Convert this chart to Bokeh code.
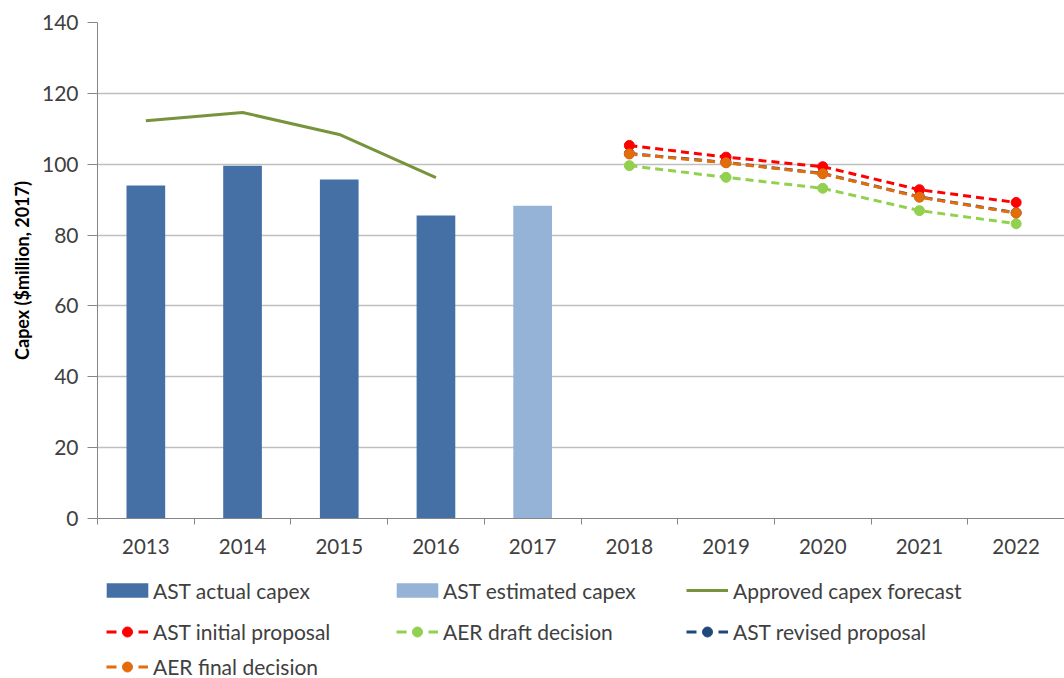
from bokeh.plotting import figure
from bokeh.layouts import column
from bokeh.models import Range1d, FixedTicker, Legend, LegendItem
from bokeh.embed import file_html
from bokeh.resources import INLINE

# ---- data -------------------------------------------------------------
years = ["2013", "2014", "2015", "2016", "2017", "2018", "2019", "2020", "2021", "2022"]

actual_years = ["2013", "2014", "2015", "2016"]
actual_capex = [94.0, 99.6, 95.7, 85.5]

estimated_years = ["2017"]
estimated_capex = [88.3]

approved_years = ["2013", "2014", "2015", "2016"]
approved_forecast = [112.3, 114.6, 108.4, 96.2]

forecast_years = ["2018", "2019", "2020", "2021", "2022"]
ast_initial = [105.3, 102.0, 99.3, 92.8, 89.2]
aer_draft = [99.6, 96.3, 93.2, 86.9, 83.2]
ast_revised = [103.0, 100.5, 97.4, 90.8, 86.3]
aer_final = [102.9, 100.4, 97.3, 90.7, 86.2]

y_ticks = [0, 20, 40, 60, 80, 100, 120, 140]

FONT = "Lato"
TEXT = "#404040"
GRID = "#BFBFBF"
AXIS = "#868686"

C_ACTUAL = "#4470A5"
C_EST = "#95B3D7"
C_APPR = "#77933C"
C_INITIAL = "#FF0000"
C_DRAFT = "#92D050"
C_REVISED = "#1F497D"
C_FINAL = "#E46C0A"


def pos(labels):
    return [years.index(y) + 0.5 for y in labels]


p = figure(width=1064, height=560, output_backend="svg", toolbar_location=None,
           x_range=Range1d(0, len(years)), y_range=Range1d(0, 140),
           frame_width=967, frame_height=496,
           min_border_left=97, min_border_top=22, min_border_right=0,
           min_border_bottom=42)
p.outline_line_color = None

# bars
p.vbar(x=pos(actual_years), top=actual_capex, width=0.4, fill_color=C_ACTUAL, line_color=None)
p.vbar(x=pos(estimated_years), top=estimated_capex, width=0.4, fill_color=C_EST, line_color=None)

# approved forecast line
p.line(pos(approved_years), approved_forecast, line_color=C_APPR, line_width=3)


# dashed forecast series with markers
def dashed(values, color):
    xs = pos(forecast_years)
    p.line(xs, values, line_color=color, line_width=3, line_dash="8 5")
    p.scatter(xs, values, marker="circle", size=10, fill_color=color, line_color=color)


dashed(aer_draft, C_DRAFT)
dashed(ast_revised, C_REVISED)
dashed(ast_initial, C_INITIAL)
dashed(aer_final, C_FINAL)

# ---- axes -------------------------------------------------------------
p.xgrid.grid_line_color = None
p.ygrid.grid_line_color = GRID
p.ygrid.grid_line_width = 1.5

p.yaxis.ticker = FixedTicker(ticks=y_ticks)
p.yaxis.axis_line_color = AXIS
p.yaxis.major_tick_line_color = AXIS
p.yaxis.major_tick_out = 10
p.yaxis.major_tick_in = 0
p.yaxis.minor_tick_line_color = None
p.yaxis.major_label_text_font = FONT
p.yaxis.major_label_text_font_size = "21px"
p.yaxis.major_label_text_color = TEXT
p.yaxis.major_label_standoff = 9
p.yaxis.axis_label = "Capex ($million, 2017)"
p.yaxis.axis_label_text_font = FONT
p.yaxis.axis_label_text_font_size = "18px"
p.yaxis.axis_label_text_font_style = "bold"
p.yaxis.axis_label_text_color = "black"
p.yaxis.axis_label_standoff = 6

centers = [i + 0.5 for i in range(len(years))]
p.xaxis.ticker = FixedTicker(ticks=centers, minor_ticks=list(range(len(years) + 1)))
p.xaxis.major_label_overrides = {c: y for c, y in zip(centers, years)}
p.xaxis.axis_line_color = AXIS
p.xaxis.major_tick_line_color = None
p.xaxis.minor_tick_line_color = AXIS
p.xaxis.minor_tick_out = 6
p.xaxis.minor_tick_in = 0
p.xaxis.major_label_text_font = FONT
p.xaxis.major_label_text_font_size = "20.5px"
p.xaxis.major_label_text_color = TEXT
p.xaxis.major_label_standoff = 14

# ---- legend panel: three columns, one legend box per entry -----------
LH = 118
lf = figure(width=1064, height=LH, output_backend="svg", toolbar_location=None,
            x_range=Range1d(0, 1), y_range=Range1d(0, 1),
            min_border=0, frame_width=1064, frame_height=LH)
lf.outline_line_color = None
lf.axis.visible = False
lf.grid.visible = False

# off-screen sample glyphs, used only for the legend swatches
OFF_X = [-10, -9]
OFF_Y = [-10, -10]


def swatch_bar(color):
    return "bar", [lf.vbar(x=OFF_X, top=OFF_Y, width=0.1, fill_color=color, line_color=None)]


def swatch_line(color, marker=False):
    kw = dict(line_color=color, line_width=3)
    if marker:
        return "marker", [lf.line(x=OFF_X, y=OFF_Y, line_dash="10 22", **kw),
                          lf.scatter(x=OFF_X, y=OFF_Y, marker="circle", size=10,
                                     fill_color=color, line_color=color)]
    return "line", [lf.line(x=OFF_X, y=OFF_Y, **kw)]


entries = [
    # (label, swatch, column x, row centre measured from the top of the panel)
    ("AST actual capex", swatch_bar(C_ACTUAL), 106, 31),
    ("AST estimated capex", swatch_bar(C_EST), 396, 31),
    ("Approved capex forecast", swatch_line(C_APPR), 686, 31),
    ("AST initial proposal", swatch_line(C_INITIAL, True), 106, 71),
    ("AER draft decision", swatch_line(C_DRAFT, True), 396, 71),
    ("AST revised proposal", swatch_line(C_REVISED, True), 686, 71),
    ("AER final decision", swatch_line(C_FINAL, True), 106, 106),
]

for label, (kind, rends), cx, cy in entries:
    if kind == "bar":
        gw, gh, x0, standoff = 52, 18, cx - 5, 0
    elif kind == "marker":
        gw, gh, x0, standoff = 42, 25, cx, 5
    else:
        gw, gh, x0, standoff = 42, 14, cx, 5
    item_h = max(gh, 23)
    lg = Legend(items=[LegendItem(label=label, renderers=rends)],
                location=(x0, LH - cy - item_h / 2),
                glyph_width=gw, glyph_height=gh, label_height=23,
                padding=0, margin=0, label_standoff=standoff,
                label_text_font=FONT, label_text_font_size="21px",
                label_text_color=TEXT, background_fill_alpha=0, border_line_color=None)
    lf.add_layout(lg, "center")

layout = column(p, lf, spacing=0)
open("out.html", "w").write(file_html(layout, INLINE))
